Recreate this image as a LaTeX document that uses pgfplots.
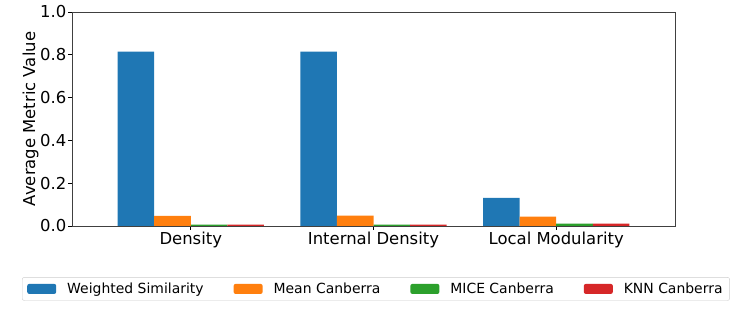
\documentclass[border=0pt]{standalone}
\usepackage{pgfplots}
\pgfplotsset{compat=1.18}
\usepackage{fontspec}
\setmainfont{DejaVu Sans}
\definecolor{c1}{HTML}{1F77B4}
\definecolor{c2}{HTML}{FF7F0E}
\definecolor{c3}{HTML}{2CA02C}
\definecolor{c4}{HTML}{D62728}
\begin{document}
\begin{tikzpicture}
\useasboundingbox (0,0) rectangle (747bp,312bp);
\begin{axis}[
  at={(72bp,86bp)}, anchor=south west,
  scale only axis, width=603bp, height=214bp,
  ybar, bar width=0.2,
  xmin=-0.65, xmax=2.65, ymin=0, ymax=1,
  xtick={0,1,2}, xticklabels={Density,Internal Density,Local Modularity},
  ytick={0,0.2,0.4,0.6,0.8,1.0},
  yticklabel style={/pgf/number format/.cd, fixed, fixed zerofill, precision=1, assume math mode=true},
  xtick pos=left, ytick pos=left,
  tick align=outside, major tick length=3.5bp,
  tick style={black, line width=0.6bp},
  axis line style={black!75, line width=0.6bp},
  tick label style={font=\fontsize{16.5}{19}\selectfont, inner sep=2bp},
  ylabel={Average Metric Value},
  every axis y label/.style={at={(axis description cs:-0.0687,0.5)}, rotate=90, anchor=center, font=\fontsize{16.5}{19}\selectfont},
  legend columns=4,
  legend style={at={(0.504,-0.294)}, anchor=center, draw=black!20, rounded corners=2bp,
    font=\fontsize{14}{16}\selectfont, inner xsep=5bp, inner ysep=3.5bp,
    /tikz/every odd column/.append style={column sep=9bp},
    /tikz/every even column/.append style={column sep=28bp}},
  legend cell align=left,
  legend image code/.code={\fill[#1] (0bp,-5bp) rectangle (29bp,5bp);},
]
\addplot[fill=c1, draw=none, bar shift=-0.3] coordinates {(0,0.815) (1,0.815) (2,0.132)};
\addplot[fill=c2, draw=none, bar shift=-0.1] coordinates {(0,0.047) (1,0.048) (2,0.044)};
\addplot[fill=c3, draw=none, bar shift=0.1] coordinates {(0,0.006) (1,0.006) (2,0.011)};
\addplot[fill=c4, draw=none, bar shift=0.3] coordinates {(0,0.006) (1,0.006) (2,0.011)};
\legend{Weighted Similarity, Mean Canberra, MICE Canberra, KNN Canberra}
\end{axis}
\end{tikzpicture}
\end{document}
